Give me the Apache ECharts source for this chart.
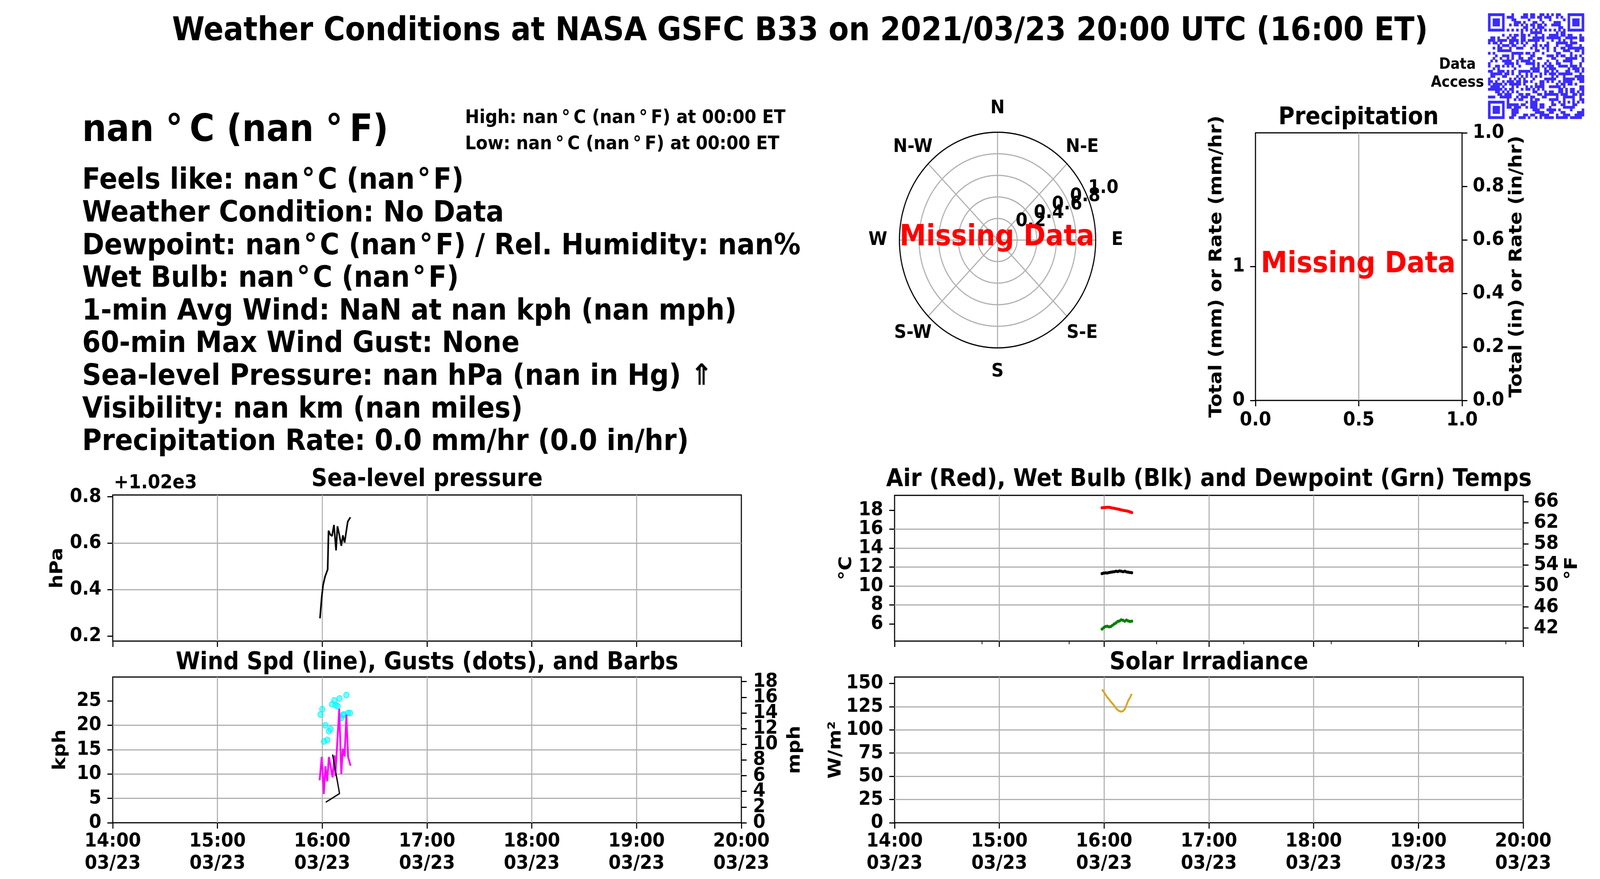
<!DOCTYPE html>
<html><head><meta charset="utf-8">
<script src="https://cdn.jsdelivr.net/npm/echarts@6/dist/echarts.min.js"></script>
<style>html,body{margin:0;padding:0;background:#fff;overflow:hidden}#wrap{position:relative;overflow:hidden;background:#fff}#c{width:4500px;height:2250px;transform-origin:0 0;position:absolute;left:0;top:0}</style>
</head><body><div id="wrap"><div id="c"></div></div>
<script>
const FONT = 'DejaVu Sans';
const DEG_BIG = ' °\u2009';        // spacing around the degree sign, large line
const DEG_SMALL = '\u2009°\u2009';  // High / Low lines
const DEG = '\u200a°\u200a';        // info lines

// ---------------- texts ----------------
const titleText = 'Weather Conditions at NASA GSFC B33 on 2021/03/23 20:00 UTC (16:00 ET)';
const bigTempText = 'nan' + DEG_BIG + 'C (nan' + DEG_BIG + 'F)';
const highText = 'High: nan' + DEG_SMALL + 'C (nan' + DEG_SMALL + 'F) at 00:00 ET';
const lowText = 'Low: nan' + DEG_SMALL + 'C (nan' + DEG_SMALL + 'F) at 00:00 ET';
const infoLines = [
  'Feels like: nan' + DEG + 'C (nan' + DEG + 'F)',
  'Weather Condition: No Data',
  'Dewpoint: nan' + DEG + 'C (nan' + DEG + 'F) / Rel. Humidity: nan%',
  'Wet Bulb: nan' + DEG + 'C (nan' + DEG + 'F)',
  '1-min Avg Wind: NaN at nan kph (nan mph)',
  '60-min Max Wind Gust: None',
  'Sea-level Pressure: nan hPa (nan in Hg) \u21d1',
  'Visibility: nan km (nan miles)',
  'Precipitation Rate: 0.0 mm/hr (0.0 in/hr)'
];
const panelTitles = {
  pressure: 'Sea-level pressure',
  wind: 'Wind Spd (line), Gusts (dots), and Barbs',
  temp: 'Air (Red), Wet Bulb (Blk) and Dewpoint (Grn) Temps',
  solar: 'Solar Irradiance',
  precip: 'Precipitation'
};
const missingText = 'Missing Data';
const qrCaption = 'Data\nAccess';

// ---------------- tick labels ----------------
const hourTicks = [14, 15, 16, 17, 18, 19, 20];
const timeTickLabels = ['14:00\n03/23', '15:00\n03/23', '16:00\n03/23', '17:00\n03/23', '18:00\n03/23', '19:00\n03/23', '20:00\n03/23'];
const minorTickClock = ['14:50', '15:40', '16:30', '17:20', '18:10', '19:50'];
const pressureOffset = 1020;
const pressureTicks = [0.2, 0.4, 0.6, 0.8];
const pressureRange = [0.178, 0.808];
const kphTicks = [0, 5, 10, 15, 20, 25];
const kphRange = [0, 29.9];
const mphTicks = [0, 2, 4, 6, 8, 10, 12, 14, 16, 18];
const tempCTicks = [6, 8, 10, 12, 14, 16, 18];
const tempCRange = [4.18, 19.56];
const tempFTicks = [42, 46, 50, 54, 58, 62, 66];
const solarTicks = [0, 25, 50, 75, 100, 125, 150];
const solarRange = [0, 156.9];
const precipLeftTicks = [0, 1];
const precipRightTicks = [0, 0.2, 0.4, 0.6, 0.8, 1.0];
const compassDirs = ['N', 'N-E', 'E', 'S-E', 'S', 'S-W', 'W', 'N-W'];
const compassAngles = [0, 45, 90, 135, 180, 225, 270, 315];
const radialTicks = [0.2, 0.4, 0.6, 0.8, 1.0];

// ---------------- data (minutes after 16:00 ET) ----------------
const pressMin = [-1.3, -0.3, 0.5, 1.6, 3.1, 3.6, 4.6, 5.6, 6.7, 7.9, 8.7, 9.7, 10.9, 11.8, 12.8, 13.8, 14.6, 16.1];
const pressHpa = [1020.276, 1020.369, 1020.420, 1020.456, 1020.487, 1020.654, 1020.637, 1020.631, 1020.679, 1020.569, 1020.673, 1020.639, 1020.589, 1020.634, 1020.603, 1020.654, 1020.693, 1020.712];

const windMin = [-1.5, -0.3, 0.9, 1.8, 2.8, 3.8, 5.9, 7.0, 7.5, 9.7, 10.9, 11.8, 12.8, 13.8, 14.8, 16.2];
const windKph = [8.7, 13.5, 5.9, 11.6, 8.5, 13.5, 9.3, 13.8, 9.6, 23.4, 10.0, 15.2, 13.6, 22.2, 13.5, 11.7];

const gustMin = [-1.0, 0.0, 1.0, 1.8, 2.9, 3.8, 4.8, 5.6, 6.9, 7.7, 8.9, 9.9, 11.0, 11.8, 12.4, 13.8, 14.8, 15.9];
const gustKph = [22.2, 23.3, 16.7, 20.0, 17.0, 18.8, 19.2, 24.3, 25.1, 24.1, 23.9, 25.5, 21.5, 22.1, 22.2, 26.2, 22.5, 22.5];

const barbMin = [5.9, 9.9, 2.0];
const barbKph = [14.0, 6.0, 4.2];

const tempMin = [-1.2, -0.2, 0.8, 1.8, 2.8, 3.8, 4.8, 5.8, 6.8, 7.8, 8.8, 9.8, 10.8, 11.8, 12.8, 13.8, 14.8, 15.8];
const airC = [18.25, 18.27, 18.28, 18.30, 18.30, 18.27, 18.22, 18.20, 18.15, 18.12, 18.08, 18.02, 17.98, 17.95, 17.92, 17.88, 17.82, 17.75];
const wetC = [11.30, 11.35, 11.38, 11.36, 11.42, 11.45, 11.48, 11.50, 11.55, 11.52, 11.58, 11.55, 11.50, 11.55, 11.48, 11.45, 11.42, 11.40];
const dewC = [5.45, 5.60, 5.72, 5.75, 5.68, 5.72, 5.85, 5.98, 6.10, 6.25, 6.30, 6.42, 6.38, 6.28, 6.40, 6.30, 6.25, 6.28];

const solarMin = [-1.2, -0.2, 0.8, 1.8, 2.8, 3.8, 4.8, 5.8, 6.8, 7.8, 8.8, 9.8, 10.8, 11.8, 12.8, 13.8, 14.8, 15.8];
const solarWm2 = [143.5, 140.8, 138.0, 135.0, 132.8, 130.5, 128.3, 126.0, 123.3, 121.3, 120.2, 119.6, 120.2, 122.2, 126.8, 131.5, 134.7, 138.8];

// QR code modules: filled column ranges per row (41 x 41)
const qrRows = [
 [[0,6],[10,10],[15,16],[18,19],[22,23],[25,25],[27,27],[29,30],[34,40]],
 [[0,0],[6,6],[8,10],[14,16],[18,19],[21,22],[24,26],[29,29],[31,31],[34,34],[40,40]],
 [[0,0],[2,4],[6,6],[10,11],[17,17],[22,22],[26,26],[32,32],[34,34],[36,38],[40,40]],
 [[0,0],[2,4],[6,6],[11,13],[15,15],[19,20],[23,23],[28,30],[34,34],[36,38],[40,40]],
 [[0,0],[2,4],[6,6],[9,9],[11,12],[14,14],[16,16],[18,19],[21,22],[24,24],[27,30],[34,34],[36,38],[40,40]],
 [[0,0],[6,6],[15,16],[19,19],[21,23],[30,31],[34,34],[40,40]],
 [[0,6],[8,8],[10,10],[12,12],[14,14],[16,16],[18,18],[20,20],[22,22],[24,24],[26,26],[28,28],[30,30],[32,32],[34,40]],
 [[14,14],[18,22],[29,29],[31,32]],
 [[6,6],[9,9],[11,12],[14,15],[17,17],[20,20],[23,23],[26,29],[31,32],[34,35],[39,39]],
 [[1,2],[4,4],[8,8],[10,11],[14,15],[19,23],[25,30],[33,37],[39,40]],
 [[0,2],[4,7],[9,12],[14,15],[17,21],[23,23],[27,27],[30,30],[32,32],[35,35],[39,40]],
 [[0,0],[2,3],[5,5],[9,10],[12,12],[14,14],[16,16],[20,20],[25,25],[29,33],[35,37]],
 [[4,4],[6,8],[10,11],[15,15],[19,20],[22,22],[24,25],[29,29],[33,35],[39,39]],
 [[2,2],[4,5],[9,9],[12,14],[18,18],[20,20],[23,23],[25,25],[28,28],[31,32],[34,40]],
 [[4,9],[20,21],[25,25],[28,28],[32,34],[37,38],[40,40]],
 [[0,0],[2,2],[10,14],[16,17],[19,19],[23,23],[29,30],[35,35],[40,40]],
 [[3,3],[6,8],[10,10],[13,13],[18,19],[25,27],[29,29],[31,32],[35,35],[37,37],[39,39]],
 [[2,2],[5,5],[8,8],[10,10],[13,14],[17,18],[21,22],[27,28],[33,37],[40,40]],
 [[1,1],[3,3],[6,9],[12,12],[14,17],[19,19],[25,25],[29,29],[32,35],[40,40]],
 [[0,0],[7,10],[12,12],[16,19],[21,21],[24,24],[26,26],[29,30],[35,35],[39,39]],
 [[0,0],[3,4],[6,6],[8,8],[10,10],[13,13],[19,19],[21,21],[23,23],[25,27],[30,33],[35,37],[39,39]],
 [[2,2],[4,4],[11,11],[18,21],[24,24],[26,28],[34,34],[36,38],[40,40]],
 [[0,1],[4,6],[8,8],[10,10],[13,17],[19,21],[24,25],[27,27],[29,29],[33,34],[37,38],[40,40]],
 [[1,5],[7,8],[10,10],[13,13],[16,16],[18,18],[22,22],[24,24],[26,28],[30,35],[39,39]],
 [[1,2],[6,7],[12,12],[14,14],[16,16],[18,18],[20,20],[22,22],[27,27],[29,29],[32,32],[37,40]],
 [[0,0],[4,4],[9,9],[11,11],[13,13],[15,15],[19,19],[24,28],[32,36],[38,40]],
 [[0,1],[3,3],[6,6],[8,10],[12,13],[15,16],[18,18],[22,23],[25,25],[27,27],[30,30],[32,35],[39,40]],
 [[0,0],[2,5],[7,7],[9,13],[15,15],[20,20],[22,23],[29,29],[31,32],[34,35],[37,37]],
 [[1,4],[6,6],[10,10],[12,12],[16,16],[18,18],[20,23],[26,30],[32,32],[39,40]],
 [[0,5],[7,7],[9,10],[14,14],[16,17],[19,19],[21,21],[23,23],[30,31],[33,33],[35,36],[39,40]],
 [[3,4],[6,6],[8,8],[10,10],[12,12],[19,20],[24,24],[26,27],[30,31],[33,33],[35,36],[38,38],[40,40]],
 [[4,5],[7,9],[13,14],[16,17],[21,22],[24,29],[31,33],[36,37],[39,40]],
 [[0,2],[5,9],[12,12],[14,16],[18,19],[23,24],[29,29],[32,36],[39,39]],
 [[8,8],[11,11],[13,14],[18,18],[20,21],[26,29],[32,32],[36,36],[39,40]],
 [[0,6],[8,8],[16,16],[18,20],[27,27],[30,30],[32,32],[34,34],[36,36],[38,38],[40,40]],
 [[0,0],[6,6],[8,12],[14,15],[18,20],[22,23],[27,28],[31,32],[36,37]],
 [[0,0],[2,4],[6,6],[8,9],[11,13],[16,16],[18,20],[22,23],[26,26],[32,36]],
 [[0,0],[2,4],[6,6],[10,12],[19,21],[25,28],[30,30],[35,35],[40,40]],
 [[0,0],[2,4],[6,6],[10,12],[20,23],[26,27],[31,32],[38,40]],
 [[0,0],[6,6],[10,11],[15,16],[18,19],[22,25],[29,29],[32,34],[37,40]],
 [[0,6],[9,10],[13,15],[17,17],[20,20],[22,22],[24,27],[29,33],[35,39]]
];

// ---------------- helpers ----------------
const GRID_GRAY = '#b0b0b0';
const toHour = m => 16 + m / 60;
const clockToHour = s => { const p = s.split(':'); return +p[0] + (+p[1]) / 60; };
const pairs = (ms, vs) => ms.map((m, i) => [toHour(m), vs[i]]);
const lab = (size, extra) => Object.assign({fontFamily: FONT, fontWeight: 'bold', fontSize: size, color: '#000'}, extra || {});
const tickStyle = (len) => ({show: true, inside: false, length: len, lineStyle: {color: '#000', width: 3}});
// alternate tick labels (so dense labels are split over two coincident axes)
const everyOther = (arr, start) => arr.filter((v, i) => i % 2 === start);

function timeAxis(gi, showLabels) {
  return {
    type: 'value', gridIndex: gi, position: 'bottom', min: 14, max: 20, interval: 1,
    axisLine: {show: false, onZero: false},
    axisTick: tickStyle(15),
    axisLabel: lab(50, {show: showLabels, margin: 20, lineHeight: 57, showMinLabel: true, showMaxLabel: true,
      formatter: v => timeTickLabels[hourTicks.indexOf(Math.round(v))]}),
    splitLine: {show: true, showMinLine: false, showMaxLine: false, lineStyle: {color: GRID_GRAY, width: 3}}
  };
}
// o: {gi, pos, min, max, ticks, labels, fmt, name, nameGap, grid, margin, showTicks}
function yAxis(o) {
  return {
    type: 'value', gridIndex: o.gi, position: o.pos, min: o.min, max: o.max,
    axisLine: {show: false, onZero: false},
    axisTick: Object.assign(tickStyle(15), {show: o.showTicks !== false, customValues: o.ticks}),
    axisLabel: lab(50, {margin: o.margin, customValues: o.labels || o.ticks, formatter: o.fmt || (v => String(v)),
      showMinLabel: true, showMaxLabel: true, hideOverlap: false}),
    splitLine: {show: !!o.grid, showMinLine: false, showMaxLine: false, lineStyle: {color: GRID_GRAY, width: 3}},
    name: o.name || '', nameLocation: 'middle', nameRotate: 90, nameGap: o.nameGap || 0,
    nameTextStyle: lab(50)
  };
}
function gtext(text, x, y, size, align, color, lineHeight) {
  const st = {text, font: 'bold ' + size + 'px "' + FONT + '"', fill: color || '#000',
    align: align, verticalAlign: 'middle', textAlign: align, textVerticalAlign: 'middle'};
  if (lineHeight) st.lineHeight = lineHeight;
  return {type: 'text', x, y, z: 100, style: st};
}
const gridBox = (left, top, width, height) => ({left, top, width, height, show: true, borderColor: '#000', borderWidth: 3, backgroundColor: 'transparent', containLabel: false});

// ---------------- layout ----------------
const POLAR_CENTER = [2805.6, 614.4];
const POLAR_R = 276;
const COMPASS_LABEL_PAD = 0.22;   // labels sit at 1.22 x radius
const grids = [
  gridBox(317, 1267, 1768, 374),   // 0 pressure
  gridBox(317, 1733, 1768, 373),   // 1 wind
  gridBox(2516, 1268, 1768, 373),  // 2 temps
  gridBox(2516, 1733, 1768, 373),  // 3 solar
  gridBox(3531, 340, 581, 685),    // 4 precipitation
  {left: 4185, top: 34, width: 270, height: 270, show: false}  // 5 QR
];

const kmh2mph = 1.609344;
const xAxes = [
  timeAxis(0, false),
  timeAxis(1, true),
  timeAxis(2, false),
  timeAxis(3, true),
  { // minor ticks of the temperature panel
    type: 'value', gridIndex: 2, position: 'bottom', min: 14, max: 20,
    axisLine: {show: false, onZero: false},
    axisTick: {show: true, length: 8, lineStyle: {color: '#000', width: 2}, customValues: minorTickClock.map(clockToHour)},
    axisLabel: {show: false}, splitLine: {show: false}
  },
  {
    type: 'value', gridIndex: 4, position: 'bottom', min: 0, max: 1, interval: 0.5,
    axisLine: {show: false, onZero: false}, axisTick: tickStyle(15),
    axisLabel: lab(50, {margin: 26, showMinLabel: true, showMaxLabel: true, formatter: v => v.toFixed(1)}),
    splitLine: {show: true, showMinLine: false, showMaxLine: false, lineStyle: {color: GRID_GRAY, width: 3}}
  },
  {type: 'value', gridIndex: 5, min: 0, max: 41, show: false}
];

const mphRange = [kphRange[0] / kmh2mph, kphRange[1] / kmh2mph];
const tempFRange = [tempCRange[0] * 1.8 + 32, tempCRange[1] * 1.8 + 32];
const yAxes = [
  /*0*/ yAxis({gi: 0, pos: 'left', min: pressureOffset + pressureRange[0], max: pressureOffset + pressureRange[1],
        ticks: pressureTicks.map(t => pressureOffset + t), fmt: v => (v - pressureOffset).toFixed(1),
        name: 'hPa', nameGap: 130, grid: true, margin: 32}),
  /*1*/ yAxis({gi: 1, pos: 'left', min: kphRange[0], max: kphRange[1], ticks: kphTicks, name: 'kph', nameGap: 122, grid: true, margin: 32}),
  /*2*/ yAxis({gi: 1, pos: 'right', min: mphRange[0], max: mphRange[1], ticks: mphTicks, labels: everyOther(mphTicks, 0),
        name: 'mph', nameGap: 126, margin: 33}),
  /*3*/ yAxis({gi: 1, pos: 'right', min: mphRange[0], max: mphRange[1], ticks: mphTicks, labels: everyOther(mphTicks, 1),
        showTicks: false, margin: 33}),
  /*4*/ yAxis({gi: 2, pos: 'left', min: tempCRange[0], max: tempCRange[1], ticks: tempCTicks, labels: everyOther(tempCTicks, 0),
        name: '°C', nameGap: 110, grid: true, margin: 32}),
  /*5*/ yAxis({gi: 2, pos: 'left', min: tempCRange[0], max: tempCRange[1], ticks: tempCTicks, labels: everyOther(tempCTicks, 1),
        showTicks: false, margin: 32}),
  /*6*/ yAxis({gi: 2, pos: 'right', min: tempFRange[0], max: tempFRange[1], ticks: tempFTicks, name: '°F', nameGap: 113, margin: 30}),
  /*7*/ yAxis({gi: 3, pos: 'left', min: solarRange[0], max: solarRange[1], ticks: solarTicks, name: 'W/m²', nameGap: 110, grid: true, margin: 32}),
  /*8*/ yAxis({gi: 4, pos: 'left', min: 0, max: 2, ticks: precipLeftTicks, name: 'Total (mm) or Rate (mm/hr)', nameGap: 84, grid: true, margin: 30}),
  /*9*/ yAxis({gi: 4, pos: 'right', min: 0, max: 1, ticks: precipRightTicks, fmt: v => v.toFixed(1), name: 'Total (in) or Rate (in/hr)', nameGap: 129, margin: 30}),
  /*10*/ {type: 'value', gridIndex: 5, min: 0, max: 41, inverse: true, show: false}
];

// QR module list
const qrCells = [];
qrRows.forEach((ranges, r) => ranges.forEach(([a, b]) => { for (let c = a; c <= b; c++) qrCells.push([c, r]); }));

const hiddenItem = {color: 'rgba(0,0,0,0)', opacity: 1};
const series = [
  {type: 'line', name: 'Sea-level pressure', xAxisIndex: 0, yAxisIndex: 0, data: pairs(pressMin, pressHpa),
   showSymbol: false, lineStyle: {color: '#000', width: 4.5}, itemStyle: {color: '#000'}},
  {type: 'line', name: 'Wind speed', xAxisIndex: 1, yAxisIndex: 1, data: pairs(windMin, windKph),
   showSymbol: false, lineStyle: {color: '#ff00ff', width: 5}, itemStyle: {color: '#ff00ff'}},
  {type: 'line', name: 'Barb', xAxisIndex: 1, yAxisIndex: 1, data: pairs(barbMin, barbKph),
   showSymbol: false, lineStyle: {color: '#000', width: 3.5}, itemStyle: {color: '#000'}},
  {type: 'scatter', name: 'Gusts', xAxisIndex: 1, yAxisIndex: 1, data: pairs(gustMin, gustKph),
   symbol: 'circle', symbolSize: 15, itemStyle: {color: 'rgba(0,255,255,0.55)', borderColor: 'rgba(0,240,255,0.8)', borderWidth: 2, opacity: 1}},
  {type: 'line', name: 'Air', xAxisIndex: 2, yAxisIndex: 4, data: pairs(tempMin, airC),
   symbol: 'circle', symbolSize: 8, showSymbol: true, lineStyle: {color: '#ff0000', width: 4.5}, itemStyle: {color: '#ff0000'}},
  {type: 'line', name: 'Wet bulb', xAxisIndex: 2, yAxisIndex: 4, data: pairs(tempMin, wetC),
   symbol: 'circle', symbolSize: 8, showSymbol: true, lineStyle: {color: '#000', width: 4.5}, itemStyle: {color: '#000'}},
  {type: 'line', name: 'Dewpoint', xAxisIndex: 2, yAxisIndex: 4, data: pairs(tempMin, dewC),
   symbol: 'circle', symbolSize: 8, showSymbol: true, lineStyle: {color: '#008000', width: 4.5}, itemStyle: {color: '#008000'}},
  {type: 'line', name: 'Solar', xAxisIndex: 3, yAxisIndex: 7, data: pairs(solarMin, solarWm2),
   showSymbol: false, lineStyle: {color: '#daa520', width: 5}, itemStyle: {color: '#daa520'}},
  {type: 'scatter', name: 'compass', coordinateSystem: 'polar', polarIndex: 0, symbolSize: 1,
   itemStyle: hiddenItem,
   data: compassDirs.map((d, i) => {
     const a = compassAngles[i] * Math.PI / 180, d0 = COMPASS_LABEL_PAD * POLAR_R;
     return {name: d, value: [1, compassAngles[i]],
       label: {offset: [d0 * Math.sin(a), -d0 * Math.cos(a)]}};
   }),
   label: lab(48, {show: true, opacity: 1, textBorderWidth: 0, position: 'inside', align: 'center', verticalAlign: 'middle', formatter: p => p.name}), z: 5},
  {type: 'scatter', name: 'rlabels', coordinateSystem: 'polar', polarIndex: 0, symbolSize: 1,
   itemStyle: hiddenItem,
   data: radialTicks.map(r => ({name: r.toFixed(1), value: [r, 67.5]})),
   label: lab(48, {show: true, opacity: 1, textBorderWidth: 0, position: 'inside', align: 'left', verticalAlign: 'bottom', offset: [0, -3], formatter: p => p.name}), z: 6},
  {type: 'custom', name: 'QR', xAxisIndex: 6, yAxisIndex: 10, data: qrCells,
   renderItem: (params, api) => {
     const c = api.value(0), r = api.value(1);
     const p0 = api.coord([c, r]), p1 = api.coord([c + 1, r + 1]);
     return {type: 'rect', shape: {x: Math.min(p0[0], p1[0]), y: Math.min(p0[1], p1[1]),
       width: Math.abs(p1[0] - p0[0]) + 0.6, height: Math.abs(p1[1] - p0[1]) + 0.6},
       style: {fill: '#3a2bff'}};
   }}
];

const infoBaseTop = 464, infoStep = 83.6;
const graphics = [
  gtext(titleText, 2250, 81, 83, 'center'),
  gtext(bigTempText, 231, 336, 96, 'left'),
  gtext(highText, 1308, 303, 48, 'left'),
  gtext(lowText, 1308, 370, 48, 'left'),
  ...infoLines.map((t, i) => gtext(t, 231, infoBaseTop + i * infoStep, 75, 'left')),
  gtext(panelTitles.pressure, 1201, 1228, 62, 'center'),
  gtext(panelTitles.wind, 1201, 1697, 62, 'center'),
  gtext(panelTitles.temp, 3400, 1228, 62, 'center'),
  gtext(panelTitles.solar, 3400, 1697, 62, 'center'),
  gtext(panelTitles.precip, 3821, 302, 62, 'center'),
  gtext('+1.02e3', 320, 1237, 50, 'left'),
  gtext(qrCaption, 4099, 189, 39, 'center', '#000', 46),
  gtext(missingText, 2804, 609, 75, 'center', '#ff0000'),
  gtext(missingText, 3820, 678, 75, 'center', '#ff0000')
];

const option = {
  animation: false,
  backgroundColor: '#ffffff',
  textStyle: {fontFamily: FONT},
  grid: grids,
  polar: [{center: POLAR_CENTER, radius: POLAR_R}],
  angleAxis: [{polarIndex: 0, type: 'value', min: 0, max: 360, interval: 45, startAngle: 90, clockwise: true, z: 3,
    axisLine: {show: true, lineStyle: {color: '#000', width: 3}}, axisTick: {show: false}, axisLabel: {show: false},
    splitLine: {show: true, lineStyle: {color: GRID_GRAY, width: 3}}}],
  radiusAxis: [{polarIndex: 0, type: 'value', min: 0, max: 1, interval: 0.2, z: 1,
    axisLine: {show: false}, axisTick: {show: false}, axisLabel: {show: false},
    splitLine: {show: true, lineStyle: {color: GRID_GRAY, width: 3}}}],
  xAxis: xAxes,
  yAxis: yAxes,
  series,
  graphic: {elements: graphics}
};

// The design is 4500 x 2250; stretch it onto whatever viewport the browser really has.
const W = 4500, H = 2250;
const sx = (window.innerWidth || W) / W, sy = (window.innerHeight || H) / H;
const wrap = document.getElementById('wrap');
wrap.style.width = (W * sx) + 'px';
wrap.style.height = (H * sy) + 'px';
const el = document.getElementById('c');
el.style.transform = 'scale(' + sx + ',' + sy + ')';
const chart = echarts.init(el, null, {renderer: 'canvas', width: W, height: H,
  devicePixelRatio: Math.max(sx, sy) * (window.devicePixelRatio || 1)});
chart.setOption(option);
</script></body></html>
